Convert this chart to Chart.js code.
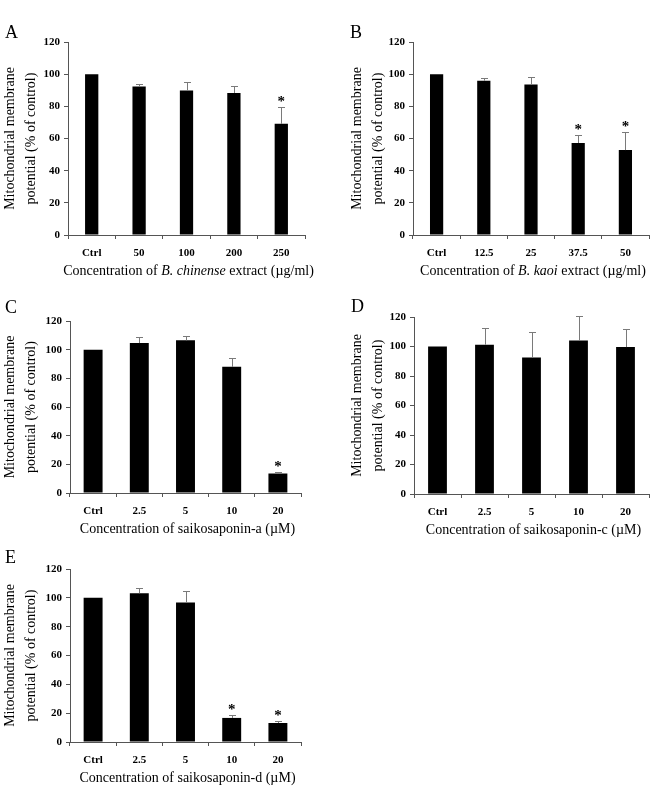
<!DOCTYPE html>
<html>
<head>
<meta charset="utf-8">
<script src="https://cdn.jsdelivr.net/npm/chart.js@4.4.1/dist/chart.umd.min.js"></script>
<style>
  html, body { margin: 0; padding: 0; background: #fff; }
  body { width: 662px; height: 789px; position: relative; overflow: hidden; }
  canvas { position: absolute; }
</style>
</head>
<body>
<canvas id="cA"></canvas>
<canvas id="cB"></canvas>
<canvas id="cC"></canvas>
<canvas id="cD"></canvas>
<canvas id="cE"></canvas>
<script>
// ---------------- data ----------------
const yTitleLines = ['Mitochondrial membrane', 'potential (% of control)'];
const yTicksMin = 0, yTicksMax = 120, yTicksStep = 20;

const catsA = ['Ctrl', '50', '100', '200', '250'];
const valsA = [100, 92.3, 89.8, 88.3, 69.1];
const errA  = [0, 1.3, 5.4, 4.6, 10.5];
const sigA  = [false, false, false, false, true];
const xTitleA = [['Concentration of ', false], ['B. chinense', true], [' extract (\u00b5g/ml)', false]];

const catsB = ['Ctrl', '12.5', '25', '37.5', '50'];
const valsB = [100, 95.9, 93.6, 57.2, 52.8];
const errB  = [0, 1.5, 4.5, 5.2, 11.0];
const sigB  = [false, false, false, true, true];
const xTitleB = [['Concentration of ', false], ['B. kaoi', true], [' extract (\u00b5g/ml)', false]];

const catsC = ['Ctrl', '2.5', '5', '10', '20'];
const valsC = [100, 104.6, 106.5, 88.0, 13.6];
const errC  = [0, 4.4, 3.2, 6.3, 1.0];
const sigC  = [false, false, false, false, true];
const xTitleC = [['Concentration of saikosaponin-a (\u00b5M)', false]];

const catsD = ['Ctrl', '2.5', '5', '10', '20'];
const valsD = [100, 101.2, 92.5, 104.0, 99.6];
const errD  = [0, 11.5, 17.0, 16.5, 12.3];
const sigD  = [false, false, false, false, false];
const xTitleD = [['Concentration of saikosaponin-c (\u00b5M)', false]];

const catsE = ['Ctrl', '2.5', '5', '10', '20'];
const valsE = [100, 103.2, 96.8, 16.7, 13.2];
const errE  = [0, 3.4, 8.0, 1.7, 1.2];
const sigE  = [false, false, false, true, true];
const xTitleE = [['Concentration of saikosaponin-d (\u00b5M)', false]];

const panelLetters = ['A', 'B', 'C', 'D', 'E'];

// ---------------- layout ----------------
const SERIF = "'Liberation Serif', 'Times New Roman', Times, serif";
const panels = [
  { id: 'cA', letter: panelLetters[0], cats: catsA, vals: valsA, err: errA, sig: sigA, xTitle: xTitleA,
    cx: 0, cy: 0, w: 331, h: 290, left: 68, top: 42, right: 305, bottom: 235, barPct: 0.28, lx: 5, ly: 38 },
  { id: 'cB', letter: panelLetters[1], cats: catsB, vals: valsB, err: errB, sig: sigB, xTitle: xTitleB,
    cx: 347, cy: 0, w: 315, h: 290, left: 413, top: 42, right: 649, bottom: 235, barPct: 0.28, lx: 350, ly: 38 },
  { id: 'cC', letter: panelLetters[2], cats: catsC, vals: valsC, err: errC, sig: sigC, xTitle: xTitleC,
    cx: 0, cy: 290, w: 331, h: 255, left: 70, top: 321, right: 301, bottom: 493, barPct: 0.41, lx: 5, ly: 313 },
  { id: 'cD', letter: panelLetters[3], cats: catsD, vals: valsD, err: errD, sig: sigD, xTitle: xTitleD,
    cx: 347, cy: 290, w: 315, h: 255, left: 414, top: 317, right: 649, bottom: 494, barPct: 0.40, lx: 351, ly: 312 },
  { id: 'cE', letter: panelLetters[4], cats: catsE, vals: valsE, err: errE, sig: sigE, xTitle: xTitleE,
    cx: 0, cy: 545, w: 331, h: 244, left: 70, top: 569, right: 301, bottom: 742, barPct: 0.41, lx: 5, ly: 563 }
];

const X_AXIS_H = 40;

const decorPlugin = {
  id: 'decor',
  afterDatasetsDraw(chart, args, opts) {
    const p = opts.panel;
    const ctx = chart.ctx;
    const y = chart.scales.y;
    const meta = chart.getDatasetMeta(0);
    ctx.save();
    // error bars
    meta.data.forEach((bar, i) => {
      const e = p.err[i];
      if (e > 0) {
        const yTop = y.getPixelForValue(p.vals[i] + e);
        const yBase = y.getPixelForValue(p.vals[i]);
        ctx.strokeStyle = '#7a7a7a';
        ctx.lineWidth = 1;
        ctx.beginPath();
        ctx.moveTo(Math.round(bar.x) + 0.5, yBase);
        ctx.lineTo(Math.round(bar.x) + 0.5, Math.round(yTop) + 0.5);
        ctx.moveTo(Math.round(bar.x) - 3, Math.round(yTop) + 0.5);
        ctx.lineTo(Math.round(bar.x) + 4, Math.round(yTop) + 0.5);
        ctx.stroke();
      }
      if (p.sig[i]) {
        const yTop = y.getPixelForValue(p.vals[i] + e);
        ctx.fillStyle = '#000';
        ctx.font = 'bold 15px ' + SERIF;
        ctx.textAlign = 'center';
        ctx.textBaseline = 'alphabetic';
        ctx.fillText('*', bar.x, yTop - 9 + 8);
      }
    });
    // panel letter
    ctx.fillStyle = '#000';
    ctx.font = '18px ' + SERIF;
    ctx.textAlign = 'left';
    ctx.textBaseline = 'alphabetic';
    ctx.fillText(p.letter, p.lx - p.cx, p.ly - p.cy);
    // x title (mixed italic)
    const ca = chart.chartArea;
    const parts = p.xTitle.map(([t, it]) => {
      ctx.font = (it ? 'italic ' : '') + '14px ' + SERIF;
      return { t, it, w: ctx.measureText(t).width };
    });
    const total = parts.reduce((s, q) => s + q.w, 0);
    let x = (ca.left + ca.right) / 2 - total / 2 + 2;
    const ty = ca.bottom + 36;
    ctx.textBaseline = 'middle';
    parts.forEach(q => {
      ctx.font = (q.it ? 'italic ' : '') + '14px ' + SERIF;
      ctx.fillText(q.t, x, ty);
      x += q.w;
    });
    ctx.restore();
  }
};

panels.forEach(p => {
  const cv = document.getElementById(p.id);
  cv.width = p.w; cv.height = p.h;
  cv.style.left = p.cx + 'px'; cv.style.top = p.cy + 'px';
  cv.style.width = p.w + 'px'; cv.style.height = p.h + 'px';
  new Chart(cv, {
    type: 'bar',
    data: {
      labels: p.cats,
      datasets: [{
        data: p.vals,
        backgroundColor: '#000',
        borderWidth: 0,
        barPercentage: p.barPct,
        categoryPercentage: 1.0
      }]
    },
    options: {
      responsive: false,
      animation: false,
      devicePixelRatio: 1,
      layout: {
        padding: {
          left: 0,
          top: p.top - p.cy,
          right: (p.cx + p.w) - p.right,
          bottom: (p.cy + p.h) - p.bottom - X_AXIS_H
        }
      },
      plugins: {
        legend: { display: false },
        tooltip: { enabled: false },
        decor: { panel: p }
      },
      scales: {
        x: {
          afterFit(s) { s.height = X_AXIS_H; },
          grid: { display: true, drawOnChartArea: false, drawTicks: true, tickLength: 4, color: '#555', offset: true },
          border: { display: true, color: '#555', width: 1 },
          ticks: { color: '#000', font: { family: SERIF, size: 11, weight: 'bold' }, padding: 8, maxRotation: 0, autoSkip: false }
        },
        y: {
          min: yTicksMin, max: yTicksMax,
          afterFit(s) { s.width = p.left - p.cx; },
          grid: { display: true, drawOnChartArea: false, drawTicks: true, tickLength: 4, color: '#555' },
          border: { display: true, color: '#555', width: 1 },
          ticks: { stepSize: yTicksStep, color: '#000', font: { family: SERIF, size: 11, weight: 'bold' }, padding: 4 },
          title: {
            display: true,
            text: yTitleLines,
            color: '#000',
            font: { family: SERIF, size: 14, lineHeight: 1.5 },
            padding: 0
          }
        }
      }
    },
    plugins: [decorPlugin]
  });
});
</script>
</body>
</html>
